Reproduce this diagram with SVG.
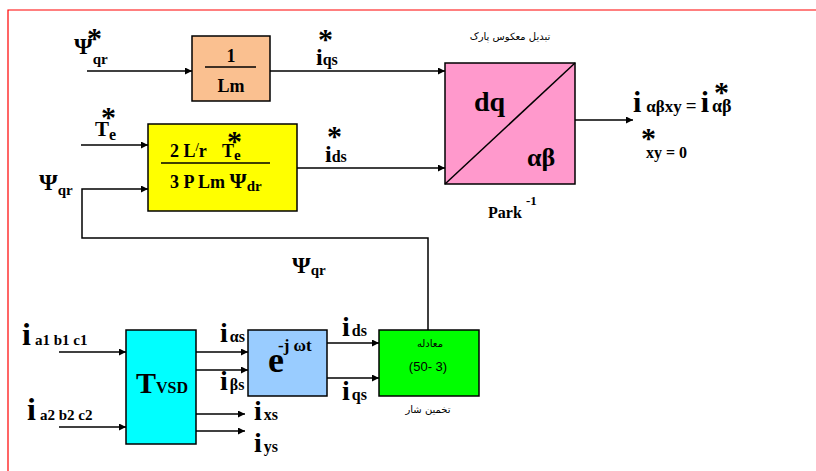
<svg xmlns="http://www.w3.org/2000/svg" width="816" height="471" viewBox="0 0 816 471">
  <defs>
    <marker id="arr" viewBox="0 0 10 10" refX="10" refY="5" markerWidth="7" markerHeight="7" markerUnits="userSpaceOnUse" orient="auto">
      <path d="M0,0 L10,5 L0,10 z" fill="#000"/>
    </marker>
    <style>
      .box { stroke: #000; stroke-width: 1.5; }
      .wire { fill: none; stroke: #000; stroke-width: 1.5; }
      .flow { fill: none; stroke: #000; stroke-width: 1.5; marker-end: url(#arr); }
      .m { font-weight: bold; fill: #000; }
      .fa { fill: #000; }
      .star { font-weight: bold; font-size: 30px; }
    </style>
  </defs>

  <rect width="816" height="471" fill="#fff"/>
  <!-- frame -->
  <path d="M8,471 V10 H816" fill="none" stroke="#ff0000" stroke-width="1.2"/>

  <!-- connectors -->
  <g id="connectors">
    <line class="flow" x1="87" y1="71" x2="192" y2="71"/>
    <line class="flow" x1="270" y1="71" x2="445" y2="71"/>
    <line class="flow" x1="81" y1="145" x2="148" y2="145"/>
    <line class="flow" x1="297" y1="168" x2="445" y2="168"/>
    <path class="flow" d="M428,330 V238 H82 V189 H148"/>
    <line class="flow" x1="575" y1="120" x2="633" y2="120"/>
    <line class="flow" x1="59" y1="352" x2="126" y2="352"/>
    <line class="flow" x1="59" y1="427" x2="126" y2="427"/>
    <line class="flow" x1="196" y1="352" x2="248" y2="352"/>
    <line class="flow" x1="196" y1="370" x2="248" y2="370"/>
    <line class="flow" x1="196" y1="414" x2="245" y2="414"/>
    <line class="flow" x1="196" y1="431" x2="245" y2="431"/>
    <line class="flow" x1="327" y1="343" x2="379" y2="343"/>
    <line class="flow" x1="327" y1="378" x2="379" y2="378"/>
  </g>

  <g font-family="Liberation Serif, Times New Roman, serif">
  <!-- 1/Lm gain -->
  <g id="gain-lm">
    <rect class="box" x="192" y="36" width="78" height="65" fill="#fac090"/>
    <line x1="205" y1="67" x2="256" y2="67" stroke="#000" stroke-width="1.5"/>
    <text class="m" x="231" y="62" font-size="18" text-anchor="middle">1</text>
    <text class="m" x="231" y="92" font-size="18" text-anchor="middle">Lm</text>
  </g>

  <!-- torque-to-current block -->
  <g id="torque-block">
    <rect class="box" x="148" y="124" width="149" height="87" fill="#ffff00"/>
    <line x1="161" y1="163" x2="270" y2="163" stroke="#000" stroke-width="1.5"/>
    <text class="m" x="170" y="157" font-size="18">2 L<tspan font-size="12" dy="-6">/</tspan><tspan dy="6">r</tspan></text>
    <text class="m" x="222" y="157" font-size="18">T<tspan font-size="15" dy="3">e</tspan></text>
    <text class="star" x="227" y="151">*</text>
    <text class="m" x="170" y="188" font-size="18">3 P Lm <tspan font-size="22">Ψ</tspan><tspan font-size="15" dy="3">dr</tspan></text>
  </g>

  <!-- inverse Park -->
  <g id="inverse-park">
    <rect class="box" x="445" y="63" width="130" height="121" fill="#ff99cc"/>
    <line x1="445" y1="184" x2="575" y2="63" stroke="#000" stroke-width="1.5"/>
    <text class="m" x="474" y="111" font-size="28">dq</text>
    <text class="m" x="527" y="166" font-size="26">αβ</text>
    <text class="m" x="488" y="218" font-size="16">Park</text>
    <text class="m" x="526" y="205" font-size="13">-1</text>
  </g>

  <!-- VSD transform -->
  <g id="vsd">
    <rect class="box" x="126" y="330" width="70" height="114" fill="#00ffff"/>
    <text class="m" x="136" y="393" font-size="30">T<tspan font-size="16">VSD</tspan></text>
  </g>

  <!-- rotation -->
  <g id="rotation">
    <rect class="box" x="248" y="330" width="79" height="66" fill="#99ccff"/>
    <text class="m" x="268" y="372" font-size="36">e</text>
    <text class="m" x="278" y="351" font-size="17">-j ωt</text>
  </g>

  <!-- signal labels -->
  <g id="labels">
    <text class="m" x="74" y="54" font-size="24">Ψ<tspan font-size="15" dy="10">qr</tspan></text>
    <text class="star" x="87" y="48">*</text>

    <text class="m" x="316" y="65" font-size="24">i<tspan font-size="16">qs</tspan></text>
    <text class="star" x="318" y="49">*</text>

    <text class="m" x="95" y="136" font-size="21">T<tspan font-size="16" dy="4">e</tspan></text>
    <text class="star" x="101" y="127">*</text>

    <text class="m" x="325" y="162" font-size="24">i<tspan font-size="16">ds</tspan></text>
    <text class="star" x="327" y="146">*</text>

    <text class="m" x="39" y="190" font-size="24">Ψ<tspan font-size="15" dy="5">qr</tspan></text>
    <text class="m" x="292" y="273" font-size="24">Ψ<tspan font-size="15" dy="2">qr</tspan></text>

    <text class="m" x="633" y="112" font-size="30">i<tspan font-size="17" dx="5">αβxy</tspan><tspan font-size="19" dx="4">=</tspan><tspan font-size="30" dx="4">i</tspan><tspan font-size="18" dx="3">αβ</tspan></text>
    <text class="star" x="714" y="102">*</text>
    <text class="star" x="641" y="148">*</text>
    <text class="m" x="646" y="158" font-size="16">xy = 0</text>

    <text class="m" x="22" y="345" font-size="32">i<tspan font-size="15" dx="4">a1 b1 c1</tspan></text>
    <text class="m" x="27" y="420" font-size="32">i<tspan font-size="15" dx="4">a2 b2 c2</tspan></text>

    <text class="m" x="220" y="342" font-size="28">i<tspan font-size="16" dx="2">αs</tspan></text>
    <text class="m" x="220" y="390" font-size="28">i<tspan font-size="16" dx="2">βs</tspan></text>
    <text class="m" x="254" y="420" font-size="28">i<tspan font-size="16" dx="2">xs</tspan></text>
    <text class="m" x="254" y="452" font-size="28">i<tspan font-size="16" dx="2">ys</tspan></text>

    <text class="m" x="342" y="336" font-size="28">i<tspan font-size="16" dx="2">ds</tspan></text>
    <text class="m" x="342" y="400" font-size="28">i<tspan font-size="16" dx="2">qs</tspan></text>
  </g>
  </g>

  <g font-family="DejaVu Sans, Noto Sans, sans-serif">
    <text id="park-caption" class="fa" x="510" y="40" font-size="10" text-anchor="middle" direction="rtl">تبدیل معکوس پارک</text>
    <!-- flux estimator -->
    <g id="flux-estimator">
      <rect class="box" x="379" y="330" width="100" height="66" fill="#00ff00"/>
      <text class="fa" x="430" y="347" font-size="10" text-anchor="middle" direction="rtl">معادله</text>
      <text x="428" y="371" font-family="Liberation Sans, Arial, sans-serif" font-size="13" text-anchor="middle">(50- 3)</text>
      <text class="fa" x="428" y="413" font-size="10" text-anchor="middle" direction="rtl">تخمین شار</text>
    </g>
  </g>
</svg>
